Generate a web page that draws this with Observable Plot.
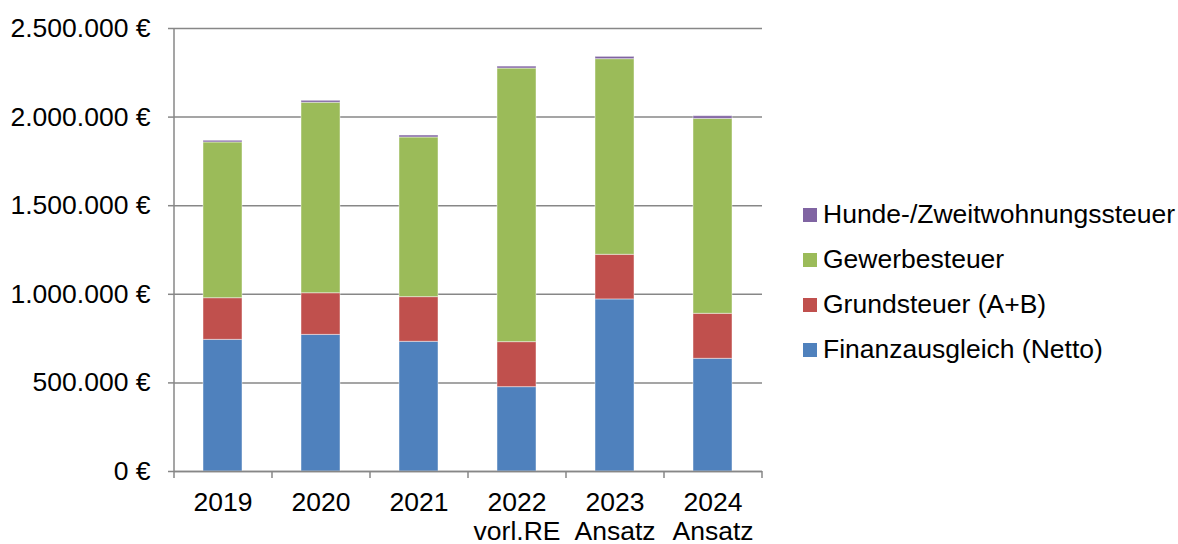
<!DOCTYPE html>
<html>
<head>
<meta charset="utf-8">
<script src="https://cdn.jsdelivr.net/npm/d3@7"></script>
<script src="https://cdn.jsdelivr.net/npm/@observablehq/plot@0.6"></script>
<style>
  html, body { margin: 0; padding: 0; background: #fff; overflow: hidden; }
  #wrap { position: relative; width: 1178px; height: 544px; font-family: "Liberation Sans", Arial, sans-serif; }
  #legend { position: absolute; left: 803px; top: 192px; font-size: 26.5px; color: #000; }
  .row { display: flex; align-items: center; height: 45px; white-space: nowrap; }
  .sw { width: 14px; height: 14px; margin-right: 6px; flex: none; }
</style>
</head>
<body>
<div id="wrap"><div id="legend"></div></div>
<script>
// ---- data ----
const categories = ["2019", "2020", "2021", "2022\nvorl.RE", "2023\nAnsatz", "2024\nAnsatz"];
const seriesNames = ["Finanzausgleich (Netto)", "Grundsteuer (A+B)", "Gewerbesteuer", "Hunde-/Zweitwohnungssteuer"];
const finanzausgleich = [743000, 771000, 732000, 476000, 971000, 636000];
const grundsteuer = [235000, 235000, 252000, 254000, 252000, 254000];
const gewerbesteuer = [879000, 1075000, 901000, 1544000, 1104000, 1100000];
const hundesteuer = [9500, 11000, 11000, 11000, 13000, 15000];
const colors = ["#4F81BD", "#C0504D", "#9BBB59", "#8064A2"];
const yTicks = [0, 500000, 1000000, 1500000, 2000000, 2500000];

const seriesValues = [finanzausgleich, grundsteuer, gewerbesteuer, hundesteuer];
const table = [];
seriesNames.forEach((s, si) => {
  categories.forEach((c, ci) => table.push({category: c, series: s, value: seriesValues[si][ci]}));
});

const W = 1178, H = 544;
const mL = 174, mR = 416, mT = 28, mB = 73;
const step = (W - mL - mR) / categories.length;
const gray = "#878787";
const loc = d3.formatLocale({decimal: ",", thousands: ".", grouping: [3], currency: ["", " €"]});
const fmt = loc.format(",.0f");

const plot = Plot.plot({
  width: W,
  height: H,
  marginLeft: mL,
  marginRight: mR,
  marginTop: mT,
  marginBottom: mB,
  style: {fontFamily: "'Liberation Sans', Arial, sans-serif", fontSize: "26.5px", color: "#000", background: "#fff"},
  x: {type: "band", domain: categories, paddingInner: 0.6, paddingOuter: 0.3, label: null},
  y: {domain: [0, 2500000], label: null},
  color: {domain: seriesNames, range: colors},
  marks: [
    Plot.gridY(yTicks, {stroke: gray, strokeOpacity: 1, strokeWidth: 1.5}),
    Plot.barY(table, {x: "category", y: "value", fill: "series", order: seriesNames, stroke: "#fff", strokeOpacity: 0.45, strokeWidth: 1}),
    Plot.ruleY([0], {stroke: gray, strokeWidth: 1.5}),
    Plot.ruleX([categories[0]], {dx: -step / 2, stroke: gray, strokeWidth: 1.5}),
    Plot.axisY(yTicks, {tickSize: 6, tickPadding: 18, stroke: gray, strokeWidth: 1.5, tickFormat: d => fmt(d) + " €", fontSize: 26.5, label: null}),
    Plot.axisX({tickSize: 0, tickPadding: 19, lineHeight: 1.1, fontSize: 26.5, tickFormat: d => d, label: null}),
    Plot.axisX({tickSize: 7, tickFormat: () => "", dx: -step / 2, stroke: gray, strokeWidth: 1.5, label: null}),
    Plot.axisX([categories[categories.length - 1]], {tickSize: 7, tickFormat: () => "", dx: step / 2, stroke: gray, strokeWidth: 1.5, label: null})
  ]
});
document.getElementById("wrap").prepend(plot);

// legend (top entry is the top of the stack)
const legend = document.getElementById("legend");
for (let i = seriesNames.length - 1; i >= 0; i--) {
  const row = document.createElement("div");
  row.className = "row";
  const sw = document.createElement("span");
  sw.className = "sw";
  sw.style.background = colors[i];
  const t = document.createElement("span");
  t.textContent = seriesNames[i];
  row.append(sw, t);
  legend.append(row);
}
</script>
</body>
</html>
